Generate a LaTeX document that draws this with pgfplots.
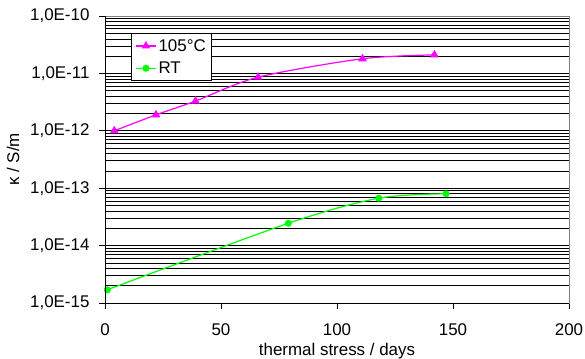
\documentclass[border=0pt]{standalone}
\usepackage{pgfplots}
\pgfplotsset{compat=1.18}
\usepackage{fontspec}
\setmainfont{Liberation Sans}
\definecolor{hotmag}{RGB}{255,0,255}
\definecolor{brightgreen}{RGB}{0,255,0}
\newcommand{\chartfont}{\fontsize{17}{20}\selectfont}

\begin{document}
\begin{tikzpicture}
\useasboundingbox (-105bp,-56bp) rectangle (480bp,303bp);
\begin{axis}[
  at={(0,0)}, anchor=south west,
  width=464bp, height=287bp, scale only axis,
  xmin=0, xmax=200,
  ymode=log, ymin=1e-15, ymax=1e-10,
  xtick={0,50,100,150,200},
  xticklabels={0,50,100,150,200},
  ytick={1e-15,1e-14,1e-13,1e-12,1e-11,1e-10},
  yticklabels={{1,0E-15},{1,0E-14},{1,0E-13},{1,0E-12},{1,0E-11},{1,0E-10}},
  minor x tick num=0,
  tick pos=left,
  tick align=outside,
  major tick length=6bp, minor tick length=0pt,
  tick style={black, line width=0.8bp},
  ymajorgrids, yminorgrids,
  major grid style={black, line width=0.7bp},
  minor grid style={black, line width=0.7bp},
  axis line style={gray, line width=0.8bp},
  ticklabel style={font=\chartfont},
  yticklabel style={xshift=-6bp},
  xticklabel style={yshift=-11bp},
  xlabel={thermal stress / days},
  ylabel={κ / S/m},
  every axis x label/.style={at={(axis description cs:0.5,-0.167)}, anchor=center, font=\chartfont},
  every axis y label/.style={at={(axis description cs:-0.198,0.5)}, rotate=90, anchor=center, font=\chartfont},
  legend style={at={(0.056,0.941)}, anchor=north west, draw=black,
    fill=white, font=\chartfont, row sep=5bp, inner xsep=4bp, inner ysep=4bp,
    line width=0.8bp, cells={anchor=west}},
  legend image code/.code={%
    \draw[mark repeat=2, mark phase=2] plot coordinates {(0bp,0bp) (10bp,0bp) (20bp,0bp)};},
  after end axis/.code={%
    \draw[black, line width=0.8bp] (rel axis cs:0,1) -- (rel axis cs:0,0) -- (rel axis cs:1,0);},
]
\addplot[hotmag, line width=1.2bp, smooth, mark=triangle*, mark size=3.8bp,
  mark options={solid}]
  coordinates {(4,1.0e-12) (22,1.9e-12) (39,3.3e-12) (66,8.6e-12) (111,1.8e-11) (142,2.1e-11)};
\addlegendentry{105°C}
\addplot[brightgreen, line width=1.2bp, smooth, mark=*, mark size=2.9bp,
  mark options={solid}]
  coordinates {(1,1.7e-15) (79,2.45e-14) (118,6.7e-14) (147,8.0e-14)};
\addlegendentry{RT}
\end{axis}
\end{tikzpicture}
\end{document}
